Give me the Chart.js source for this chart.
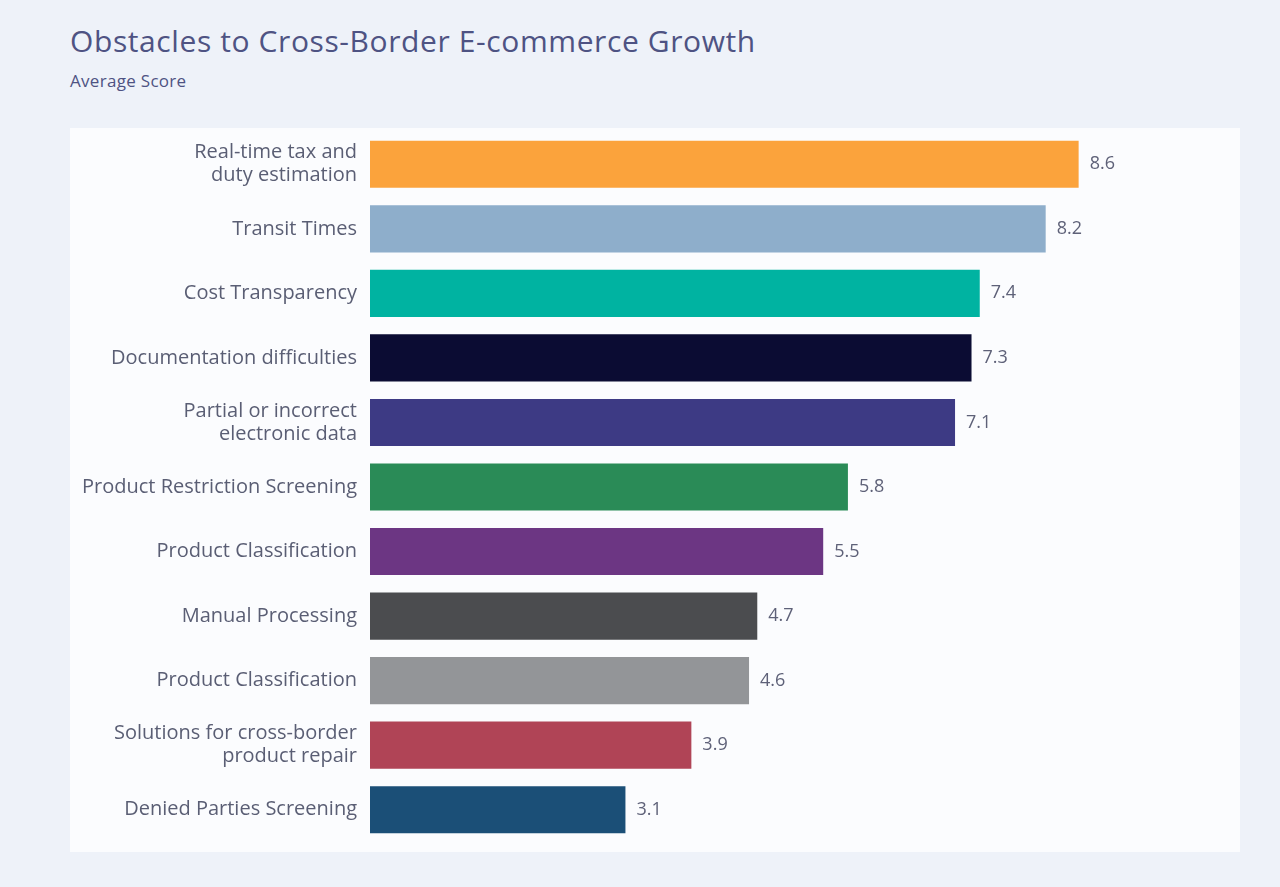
<!DOCTYPE html>
<html>
<head>
<meta charset="utf-8">
<script src="https://cdn.jsdelivr.net/npm/chart.js@4"></script>
<style>
  body { margin: 0; background: #eef2f9; font-family: "Open Sans", Lato, sans-serif; }
  #title { position: absolute; left: 70px; top: 20px; font-size: 30px; color: #4e5383; letter-spacing: 0.6px; }
  #sub { position: absolute; left: 70px; top: 69px; font-size: 17px; color: #4e5383; letter-spacing: 0.3px; }
  #panel { position: absolute; left: 70px; top: 128px; width: 1170px; height: 724px; background: #fbfcfe; }
</style>
</head>
<body>
<div id="title">Obstacles to Cross-Border E-commerce Growth</div>
<div id="sub">Average Score</div>
<div id="panel"><canvas id="chart"></canvas></div>
<script>
// obstacles, top to bottom
const categories = [
  ['Real-time tax and', 'duty estimation'],
  'Transit Times',
  'Cost Transparency',
  'Documentation difficulties',
  ['Partial or incorrect', 'electronic data'],
  'Product Restriction Screening',
  'Product Classification',
  'Manual Processing',
  'Product Classification',
  ['Solutions for cross-border', 'product repair'],
  'Denied Parties Screening'
];
const scores = [8.6, 8.2, 7.4, 7.3, 7.1, 5.8, 5.5, 4.7, 4.6, 3.9, 3.1];
const barColors = ['#fba33c', '#8eaecb', '#00b3a1', '#0b0c33', '#3d3a84', '#2a8b57',
                   '#6c3683', '#4b4c4f', '#939598', '#b04456', '#1b4f77'];

// draw the score next to each bar
const valueLabels = {
  id: 'valueLabels',
  afterDatasetsDraw(chart) {
    const ctx = chart.ctx;
    const meta = chart.getDatasetMeta(0);
    ctx.save();
    ctx.font = '18px "Open Sans", Lato, sans-serif';
    ctx.fillStyle = '#5e6178';
    ctx.textBaseline = 'middle';
    meta.data.forEach((bar, i) => {
      ctx.fillText(scores[i].toFixed(1), bar.x + 11, bar.y);
    });
    ctx.restore();
  }
};

const ctx = document.getElementById('chart').getContext('2d');
new Chart(ctx, {
  type: 'bar',
  data: {
    labels: categories,
    datasets: [{
      label: 'Average Score',
      data: scores,
      backgroundColor: barColors,
      categoryPercentage: 1,
      barPercentage: 0.73
    }]
  },
  options: {
    indexAxis: 'y',
    responsive: true,
    maintainAspectRatio: false,
    animation: false,
    layout: { padding: { top: 4, bottom: 10, right: 46, left: 0 } },
    scales: {
      x: { display: false, min: 0, max: 10 },
      y: {
        grid: { display: false, drawTicks: false },
        border: { display: false },
        ticks: {
          padding: 13,
          color: '#5a5e74',
          font: { family: '"Open Sans", Lato, sans-serif', size: 20, lineHeight: 1.15 }
        },
        afterFit(scale) {
          scale.width = 300;
          scale.paddingTop = 0;
          scale.paddingBottom = 0;
        }
      }
    },
    plugins: {
      legend: { display: false },
      tooltip: { enabled: false }
    }
  },
  plugins: [valueLabels]
});
</script>
</body>
</html>
